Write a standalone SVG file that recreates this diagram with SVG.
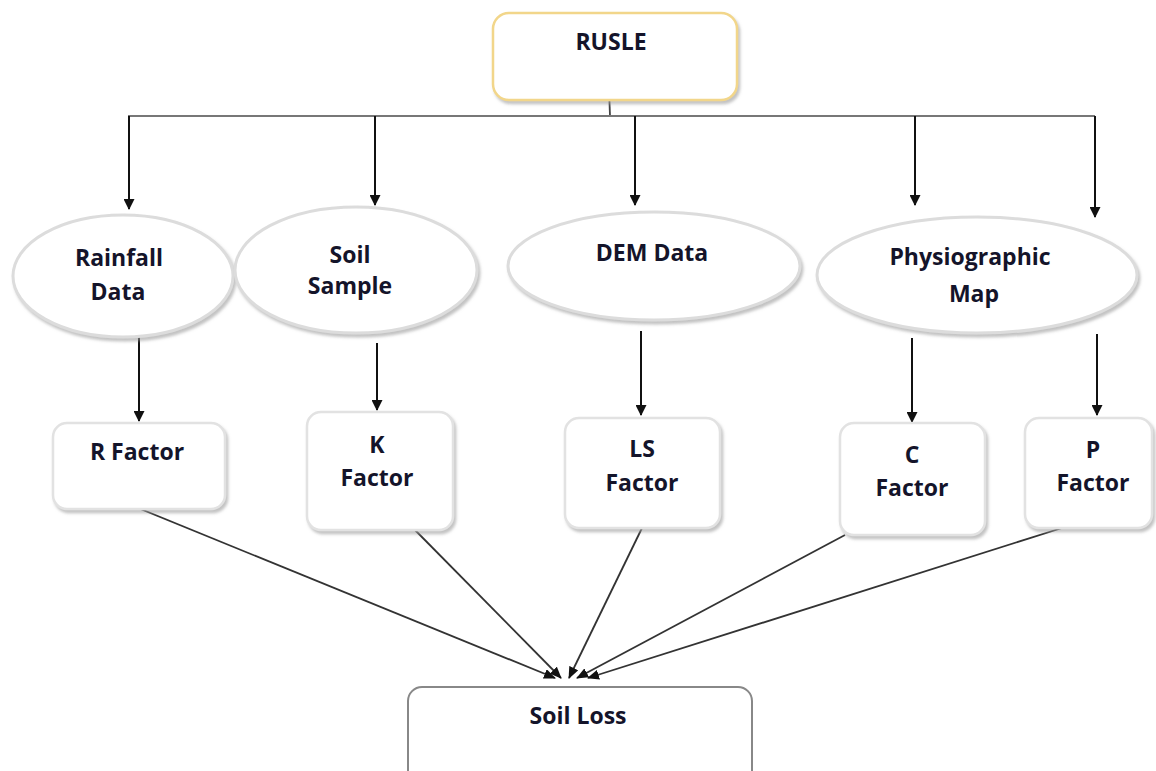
<svg xmlns="http://www.w3.org/2000/svg" width="1156" height="771" viewBox="0 0 1156 771">
  <style>
    .t { font-family: "Open Sans", "Liberation Sans", sans-serif; font-weight: bold; font-size: 23px; fill: #14142a; text-anchor: middle; }
    .ell { fill: #ffffff; stroke: #dcdcdc; stroke-width: 3; filter: url(#sh); }
    .box { fill: #ffffff; stroke: #e2e2e2; stroke-width: 2.5; filter: url(#sh); }
    .arr { stroke: #111; stroke-width: 2; fill: none; marker-end: url(#ah); }
    .ln { stroke: #333; stroke-width: 1.8; fill: none; marker-end: url(#ah2); }
  </style>
  <defs>
    <filter id="sh" x="-10%" y="-10%" width="125%" height="130%">
      <feDropShadow dx="2" dy="3" stdDeviation="1.5" flood-color="#9a9a9a" flood-opacity="0.6"/>
    </filter>
    <marker id="ah" markerWidth="11" markerHeight="11" refX="10" refY="5.5" orient="auto" markerUnits="userSpaceOnUse">
      <path d="M0,0 L11,5.5 L0,11 Z" fill="#111"/>
    </marker>
    <marker id="ah2" markerWidth="12" markerHeight="10" refX="11" refY="5" orient="auto" markerUnits="userSpaceOnUse">
      <path d="M0,0 L12,5 L0,10 Z" fill="#111"/>
    </marker>
  </defs>
  <rect width="1156" height="771" fill="#ffffff"/>

  <g id="connectors">
    <line x1="608" y1="62" x2="610" y2="116" stroke="#444" stroke-width="1.8"/>
    <line x1="128" y1="116" x2="1095" y2="116" stroke="#777" stroke-width="2"/>
    <line class="arr" x1="129" y1="116" x2="129" y2="209"/>
    <line class="arr" x1="375" y1="116" x2="375" y2="205"/>
    <line class="arr" x1="635" y1="116" x2="635" y2="205"/>
    <line class="arr" x1="915" y1="116" x2="915" y2="205"/>
    <line class="arr" x1="1095" y1="116" x2="1095" y2="217"/>

    <line class="arr" x1="139" y1="336" x2="139" y2="421"/>
    <line class="arr" x1="377" y1="343" x2="377" y2="410"/>
    <line class="arr" x1="641" y1="331" x2="641" y2="415"/>
    <line class="arr" x1="912" y1="338" x2="912" y2="422"/>
    <line class="arr" x1="1097" y1="334" x2="1097" y2="415"/>

    <line class="ln" x1="138" y1="508" x2="555" y2="678"/>
    <line class="ln" x1="415" y1="530" x2="561" y2="678"/>
    <line class="ln" x1="642" y1="528" x2="569" y2="678"/>
    <line class="ln" x1="845" y1="535" x2="577" y2="678"/>
    <line class="ln" x1="1062" y1="528" x2="588" y2="678"/>
  </g>

  <g id="rusle">
    <rect x="493" y="13" width="244" height="87" rx="16" fill="#ffffff" stroke="#f2d68a" stroke-width="2.5" filter="url(#sh)"/>
    <text class="t" x="611" y="50">RUSLE</text>
  </g>

  <g id="rainfall">
    <ellipse class="ell" cx="123" cy="276" rx="110" ry="61"/>
    <text class="t" x="119" y="266">Rainfall</text>
    <text class="t" x="118" y="300">Data</text>
  </g>
  <g id="soil-sample">
    <ellipse class="ell" cx="356" cy="270" rx="121" ry="63"/>
    <text class="t" x="350" y="263">Soil</text>
    <text class="t" x="350" y="294">Sample</text>
  </g>
  <g id="dem">
    <ellipse class="ell" cx="654" cy="266" rx="146" ry="54"/>
    <text class="t" x="652" y="261">DEM Data</text>
  </g>
  <g id="physio">
    <ellipse class="ell" cx="977" cy="275" rx="160" ry="58"/>
    <text class="t" x="970" y="265">Physiographic</text>
    <text class="t" x="974" y="302">Map</text>
  </g>

  <g id="r-factor">
    <rect class="box" x="53" y="423" width="172" height="86" rx="14"/>
    <text class="t" x="137" y="460">R Factor</text>
  </g>
  <g id="k-factor">
    <rect class="box" x="307" y="412" width="146" height="118" rx="14"/>
    <text class="t" x="377" y="453">K</text>
    <text class="t" x="377" y="486">Factor</text>
  </g>
  <g id="ls-factor">
    <rect class="box" x="565" y="418" width="155" height="110" rx="14"/>
    <text class="t" x="642" y="457">LS</text>
    <text class="t" x="642" y="491">Factor</text>
  </g>
  <g id="c-factor">
    <rect class="box" x="840" y="423" width="145" height="112" rx="14"/>
    <text class="t" x="912" y="463">C</text>
    <text class="t" x="912" y="496">Factor</text>
  </g>
  <g id="p-factor">
    <rect class="box" x="1025" y="418" width="127" height="110" rx="14"/>
    <text class="t" x="1093" y="458">P</text>
    <text class="t" x="1093" y="491">Factor</text>
  </g>

  <g id="soil-loss">
    <rect x="408" y="687" width="344" height="110" rx="14" fill="#ffffff" stroke="#888" stroke-width="2"/>
    <text class="t" x="578" y="724">Soil Loss</text>
  </g>
</svg>
